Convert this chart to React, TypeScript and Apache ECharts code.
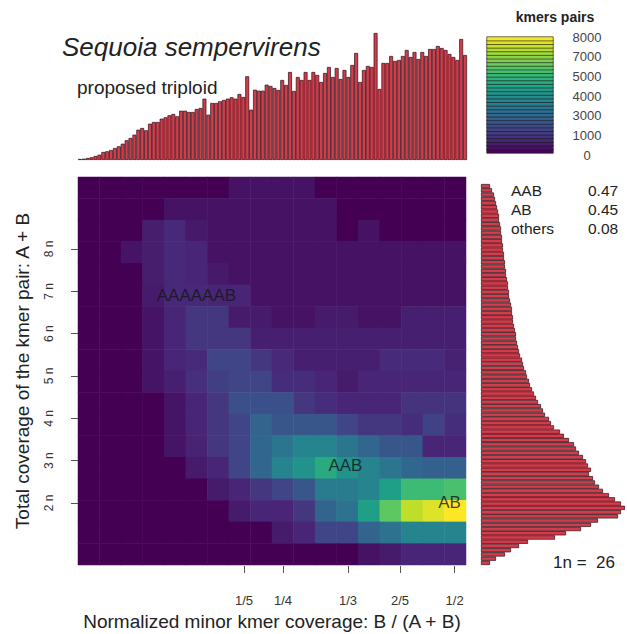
import React, { useEffect, useRef } from 'react';
import * as echarts from 'echarts';

const FONT = '"Liberation Sans", Arial, Helvetica, sans-serif';

// Smudge heatmap: rows listed from top (highest coverage) to bottom, 18 x 18 bins
const HEAT_ROWS_TOP_DOWN: number[][] = [
  [0, 0, 0, 0, 0, 0, 0, 400, 400, 400, 400, 0, 0, 0, 0, 0, 0, 0],
  [0, 0, 0, 0, 400, 400, 400, 400, 400, 400, 400, 400, 0, 0, 0, 0, 0, 0],
  [0, 0, 0, 650, 900, 550, 400, 400, 400, 400, 400, 400, 0, 400, 0, 0, 0, 0],
  [0, 0, 450, 650, 900, 850, 400, 400, 400, 400, 400, 400, 400, 400, 400, 400, 400, 400],
  [0, 0, 0, 650, 900, 850, 550, 400, 400, 400, 400, 400, 400, 400, 400, 400, 400, 400],
  [0, 0, 0, 600, 900, 900, 850, 850, 400, 400, 400, 400, 400, 400, 400, 400, 400, 400],
  [0, 0, 0, 450, 850, 1300, 1300, 600, 600, 400, 400, 600, 600, 400, 400, 700, 700, 700],
  [0, 0, 0, 450, 850, 1300, 1300, 1300, 700, 700, 700, 700, 700, 700, 700, 700, 700, 700],
  [0, 0, 0, 450, 850, 1000, 1700, 1700, 1300, 900, 700, 700, 700, 700, 1000, 1000, 1000, 750],
  [0, 0, 0, 450, 700, 1100, 1500, 1700, 1700, 1050, 1050, 850, 600, 850, 850, 850, 850, 850],
  [0, 0, 0, 0, 450, 850, 1300, 2000, 2000, 2000, 1300, 1050, 850, 850, 850, 1200, 1200, 1200],
  [0, 0, 0, 0, 450, 850, 1300, 1700, 2600, 2200, 2200, 2200, 1700, 1300, 1300, 1050, 1600, 1050],
  [0, 0, 0, 0, 450, 800, 1300, 1700, 2700, 3200, 3700, 3700, 3200, 2700, 2200, 2200, 850, 850],
  [0, 0, 0, 0, 0, 600, 850, 1700, 2700, 3700, 4200, 5000, 4200, 3700, 3200, 2700, 2500, 2500],
  [0, 0, 0, 0, 0, 0, 600, 850, 1300, 1700, 2200, 3400, 3400, 3700, 4600, 5600, 5600, 5800],
  [0, 0, 0, 0, 0, 0, 0, 600, 850, 850, 1300, 2600, 3100, 4600, 6100, 7400, 7800, 8200],
  [0, 0, 0, 0, 0, 0, 0, 0, 0, 600, 850, 1700, 1700, 2600, 3100, 3700, 3700, 3700],
  [0, 0, 0, 0, 0, 0, 0, 0, 0, 0, 0, 0, 0, 400, 600, 850, 850, 850],
];

// Histogram of minor kmer coverage (top)
const TOP_HIST = [
  1, 1.3, 2, 2.7, 4, 5.3, 8, 8.7, 10, 12,
  13.7, 16.3, 19.7, 22, 25.3, 30.3, 32, 29.7, 36.3, 38,
  38, 41.3, 42.7, 44.7, 46, 43.7, 49.3, 49.3, 48, 48,
  51, 52, 61.3, 45.3, 57, 57, 58.7, 60, 61.3, 62.7,
  61.3, 66, 63, 83.7, 50.3, 70.3, 69.3, 69.3, 75.3, 74,
  72, 70, 80, 75, 88, 69, 83, 80, 88, 80,
  88, 85, 78, 87, 93, 83, 92, 81, 90, 83,
  95, 107, 78, 90, 94, 93, 127, 71, 97, 97,
  104, 99, 100, 104, 110, 103, 108, 101, 108, 104,
  111, 111, 114, 112, 110, 106, 103, 100, 121, 105,
];

// Histogram of total coverage (right), from low coverage (bottom) to high (top)
const RIGHT_HIST = [
  9, 15, 24, 30, 38, 47, 74, 85, 100, 110,
  117, 137, 140, 144, 140, 134, 128, 122, 118, 114,
  112, 108, 110, 107, 105, 102, 98, 95, 93, 88,
  83, 79, 73, 70, 68, 64, 62, 60, 57, 55,
  53, 51, 49, 48, 46, 45, 43, 42, 41, 39,
  38, 37, 36, 35, 35, 34, 33, 32, 32, 31,
  31, 30, 29, 28, 28, 27, 27, 26, 25, 25,
  24, 24, 23, 23, 22, 22, 21, 21, 20, 20,
  19, 18, 18, 17, 16, 15, 14, 13, 11, 9,
];

const X_TICKS = [0.2, 0.25, 1 / 3, 0.4, 0.47];
const X_TICK_LABELS = ['1/5', '1/4', '1/3', '2/5', '1/2'];
const Y_TICKS = [2, 3, 4, 5, 6, 7, 8];

const SMUDGE_LABELS = ['AAAAAAB', 'AAB', 'AB'];
const SMUDGE_X = [0.139, 0.33, 0.4635];
const SMUDGE_Y = [6.91, 2.88, 2.0];

const LEGEND_NAMES = ['AAB', 'AB', 'others'];
const LEGEND_SIZES = ['0.47', '0.45', '0.08'];

const COLORBAR_LEVELS = [
  128, 384, 640, 896, 1152, 1408, 1664, 1920, 2176, 2432, 2688, 2944, 3200, 3456, 3712, 3968,
  4224, 4480, 4736, 4992, 5248, 5504, 5760, 6016, 6272, 6528, 6784, 7040, 7296, 7552, 7808, 8064,
];
const COLORBAR_LABELS = ['0', '1000', '3000', '4000', '5000', '7000', '8000'];

const VIRIDIS = ['#440154', '#482878', '#3e4a89', '#31688e', '#26828e', '#1f9e89', '#35b779', '#6ece58', '#b5de2b', '#fde725'];

const BAR_FILL = '#d43c4c';
const BAR_EDGE = '#2a1015';

export default function App() {
  const ref = useRef<HTMLDivElement>(null);
  useEffect(() => {
    if (!ref.current) return;
    const chart = echarts.init(ref.current, undefined, { renderer: 'svg' });
    const nRows = HEAT_ROWS_TOP_DOWN.length;
    const heatData: number[][] = [];
    HEAT_ROWS_TOP_DOWN.forEach((row, rr) => {
      const r = nRows - 1 - rr;
      row.forEach((v, c) => heatData.push([c, r, v]));
    });
    const colCats = HEAT_ROWS_TOP_DOWN[0].map((_, i) => String(i));
    const rowCats = HEAT_ROWS_TOP_DOWN.map((_, i) => String(i));
    const labelData = SMUDGE_LABELS.map((name, i) => [SMUDGE_X[i], SMUDGE_Y[i], name]);
    const cbData = COLORBAR_LEVELS.map((v, i) => [0, i, v]);

    const textEl = (text: string, x: number, y: number, font: string, align = 'left', fill = '#222') => ({
      type: 'text',
      x,
      y,
      silent: true,
      style: { text, font, fill, textAlign: align, textVerticalAlign: 'middle' },
    });

    const graphics: any[] = [
      textEl('Sequoia sempervirens', 62, 47, `italic 26px ${FONT}`),
      textEl('proposed triploid', 77, 87, `19px ${FONT}`),
      textEl('kmers pairs', 555, 17, `bold 14px ${FONT}`, 'center'),
      textEl('1n =  26', 553, 562, `17px ${FONT}`),
    ];
    LEGEND_NAMES.forEach((n, i) => {
      graphics.push(textEl(n, 511, 190 + i * 19, `15.5px ${FONT}`));
      graphics.push(textEl(LEGEND_SIZES[i], 588, 190 + i * 19, `15.5px ${FONT}`));
    });

    const g = (left: number, top: number, width: number, height: number) => ({
      left,
      top,
      width,
      height,
      outerBoundsMode: 'none',
      containLabel: false,
    });

    chart.setOption({
      animation: false,
      backgroundColor: '#ffffff',
      textStyle: { fontFamily: FONT },
      grid: [g(78, 177, 388, 388), g(78, 33, 389, 127), g(481, 184, 146, 381), g(487, 37, 66, 116), g(487, 37, 66, 118)],
      visualMap: [
        {
          type: 'continuous',
          show: false,
          min: 0,
          max: 8200,
          dimension: 2,
          seriesIndex: [0, 4],
          inRange: { color: VIRIDIS },
        },
      ],
      xAxis: [
        { type: 'category', gridIndex: 0, data: colCats, show: false },
        {
          type: 'value',
          gridIndex: 0,
          min: -0.0128,
          max: 0.4846,
          position: 'bottom',
          offset: 1,
          axisLine: { show: false },
          splitLine: { show: false },
          axisTick: { show: true, customValues: X_TICKS, length: 7, lineStyle: { color: '#555' } },
          axisLabel: {
            customValues: X_TICKS,
            formatter: (v: number) => {
              const i = X_TICKS.findIndex((t) => Math.abs(t - v) < 1e-6);
              return i >= 0 ? X_TICK_LABELS[i] : '';
            },
            margin: 28,
            fontSize: 13,
            color: '#333',
            fontFamily: FONT,
          },
          name: 'Normalized minor kmer coverage: B / (A + B)',
          nameLocation: 'middle',
          nameGap: 44,
          nameTextStyle: { fontSize: 19, color: '#222', fontFamily: FONT },
        },
        { type: 'category', gridIndex: 1, data: TOP_HIST.map((_, i) => String(i)), show: false },
        { type: 'value', gridIndex: 2, min: 0, max: 146, show: false },
        { type: 'category', gridIndex: 3, data: ['c'], show: false },
        { type: 'value', gridIndex: 4, min: 0, max: 1, show: false },
      ],
      yAxis: [
        { type: 'category', gridIndex: 0, data: rowCats, show: false },
        {
          type: 'value',
          gridIndex: 0,
          min: 0.535,
          max: 9.7,
          position: 'left',
          axisLine: { show: false },
          splitLine: { show: false },
          axisTick: { show: true, customValues: Y_TICKS, length: 7, lineStyle: { color: '#555' } },
          axisLabel: {
            customValues: Y_TICKS,
            formatter: (v: number) => `${v} n`,
            rotate: 90,
            margin: 23,
            fontSize: 12,
            color: '#333',
            fontFamily: FONT,
          },
          name: 'Total coverage of the kmer pair: A + B',
          nameLocation: 'middle',
          nameGap: 46,
          nameRotate: 90,
          nameTextStyle: { fontSize: 19, color: '#222', fontFamily: FONT },
        },
        { type: 'value', gridIndex: 1, min: 0, max: 127, show: false },
        { type: 'category', gridIndex: 2, data: RIGHT_HIST.map((_, i) => String(i)), show: false },
        { type: 'category', gridIndex: 3, data: COLORBAR_LEVELS.map((_, i) => String(i)), show: false },
        {
          type: 'value',
          gridIndex: 4,
          min: 0,
          max: 6,
          position: 'right',
          axisLine: { show: false },
          axisTick: { show: false },
          splitLine: { show: false },
          axisLabel: {
            customValues: [0, 1, 2, 3, 4, 5, 6],
            formatter: (v: number) => COLORBAR_LABELS[Math.round(v)] ?? '',
            align: 'center',
            margin: 34,
            fontSize: 13,
            color: '#444',
            fontFamily: FONT,
          },
        },
      ],
      series: [
        {
          type: 'heatmap',
          xAxisIndex: 0,
          yAxisIndex: 0,
          data: heatData,
          itemStyle: { borderWidth: 0 },
          emphasis: { disabled: true },
        },
        {
          type: 'scatter',
          xAxisIndex: 1,
          yAxisIndex: 1,
          data: labelData,
          symbolSize: 1,
          itemStyle: { color: 'rgba(0,0,0,0)' },
          label: {
            show: true,
            position: 'inside',
            formatter: (p: any) => p.data[2],
            fontSize: 17,
            color: '#151515',
            fontFamily: FONT,
          },
        },
        {
          type: 'bar',
          xAxisIndex: 2,
          yAxisIndex: 2,
          data: TOP_HIST,
          barCategoryGap: '0%',
          itemStyle: { color: BAR_FILL, borderColor: BAR_EDGE, borderWidth: 0.7 },
        },
        {
          type: 'bar',
          xAxisIndex: 3,
          yAxisIndex: 3,
          data: RIGHT_HIST,
          barCategoryGap: '0%',
          itemStyle: { color: BAR_FILL, borderColor: BAR_EDGE, borderWidth: 0.7 },
        },
        {
          type: 'heatmap',
          xAxisIndex: 4,
          yAxisIndex: 4,
          data: cbData,
          itemStyle: { borderWidth: 0.6, borderColor: '#1a1a1a' },
          emphasis: { disabled: true },
        },
      ],
      graphic: graphics,
    });
    return () => chart.dispose();
  }, []);
  return <div ref={ref} style={{ position: 'fixed', left: 0, top: 0, width: 627, height: 634 }} />;
}
